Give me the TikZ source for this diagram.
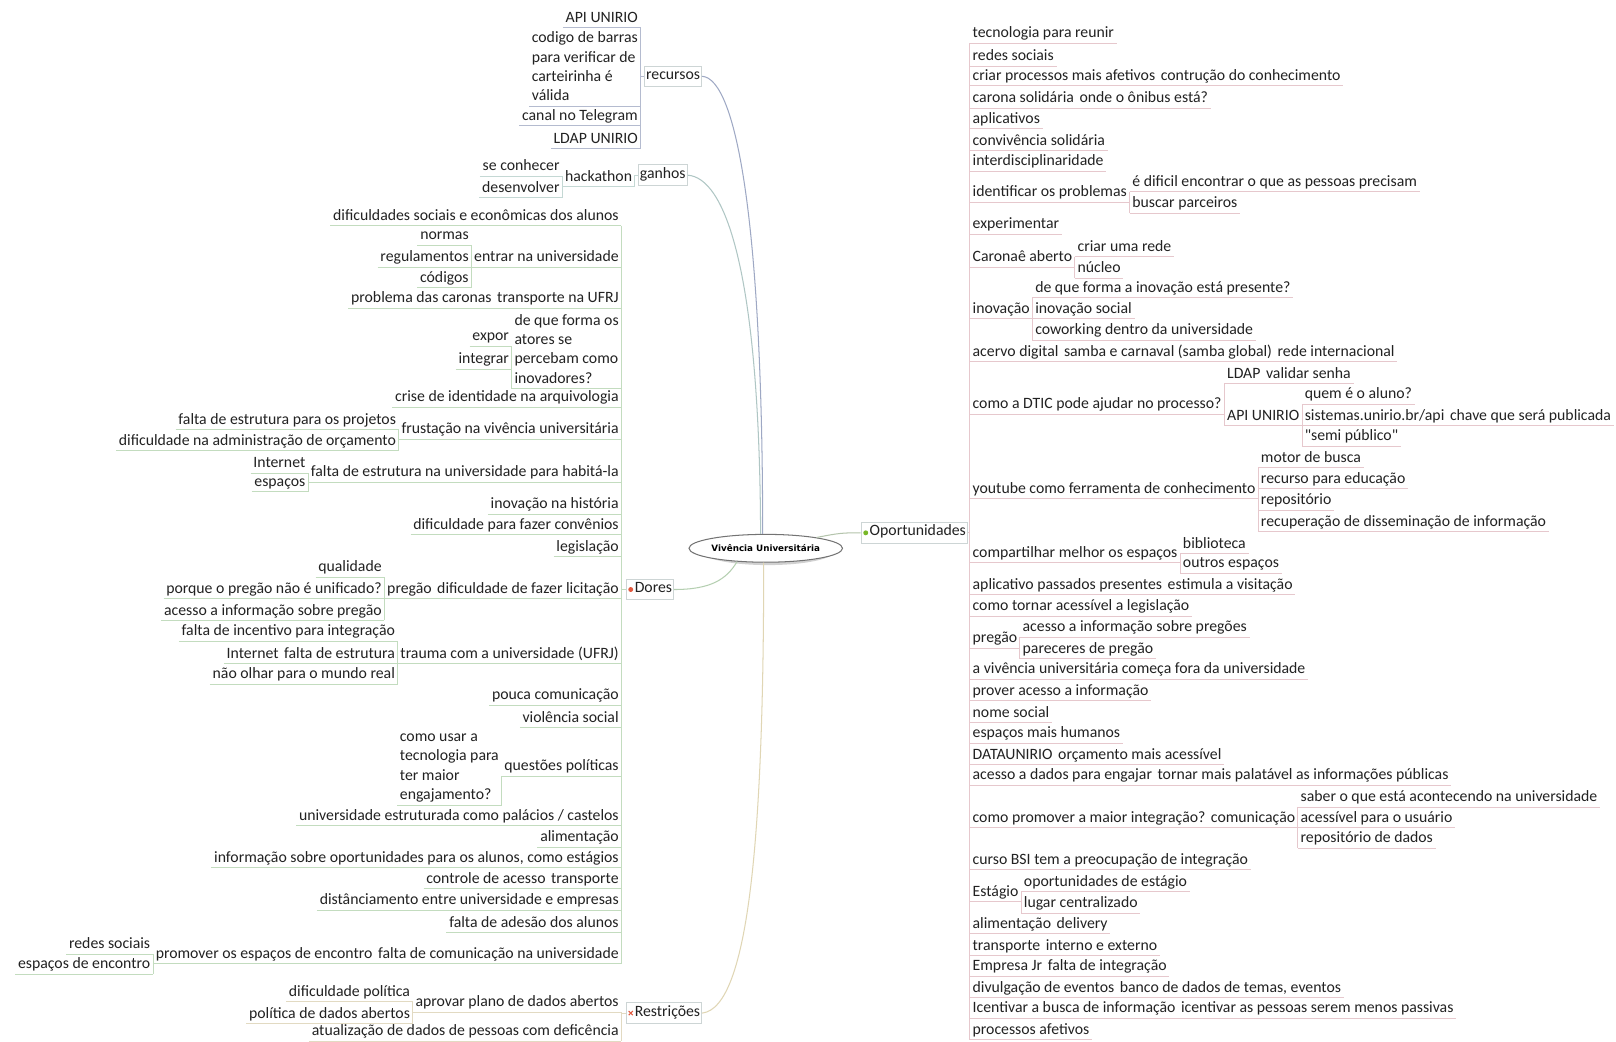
\documentclass[tikz,border=0pt]{standalone}
\usepackage{fontspec}
\setmainfont{Carlito}
\newfontfamily\rawfont[Ligatures=TeXOff]{Carlito}
\newfontfamily\ctrfont{DejaVu Sans}
\usetikzlibrary{shapes.geometric}
\definecolor{txt}{HTML}{222222}
\definecolor{cRec}{HTML}{B4BBCF}
\definecolor{cGan}{HTML}{C4D8D4}
\definecolor{cDor}{HTML}{C3DCBF}
\definecolor{cRes}{HTML}{E2DAC2}
\definecolor{cOp}{HTML}{E6C8CD}
\definecolor{kRec}{HTML}{9EA8C4}
\definecolor{kGan}{HTML}{AFC6C4}
\definecolor{kDor}{HTML}{B4CFB0}
\definecolor{kRes}{HTML}{E0D6B4}
\definecolor{kOp}{HTML}{B4C4AC}
\definecolor{boxc}{HTML}{CDD5D5}
\definecolor{dotg}{HTML}{78B828}
\definecolor{dotr}{HTML}{E2583E}
\newcommand{\fs}{\fontsize{15.3}{18.8}\selectfont}
\newcommand{\mlt}[1]{\begin{tabular}[b]{@{}l@{}}#1\end{tabular}}
\begin{document}
\begin{tikzpicture}[x=1pt,y=-1pt,
  tx/.style={inner xsep=2.5pt,inner ysep=0pt,text height=11pt,text depth=5pt,font=\fs,text=txt},
  lnw/.style={line width=0.8pt},
  lft/.style={tx,anchor=south east,append after command={(\tikzlastnode.south west) edge[lnw,draw=#1] (\tikzlastnode.south east)}},
  rgt/.style={tx,anchor=south west,append after command={(\tikzlastnode.south west) edge[lnw,draw=#1] (\tikzlastnode.south east)}},
  bx/.style={tx,draw=boxc,line width=0.8pt,inner xsep=1.5pt,inner ysep=2pt,anchor=west},
  crv/.style={line width=1pt}
]
\useasboundingbox[fill=white] (0,0) rectangle (1568,1011);

% central topic
\fill[black!18] (745,534.5) ellipse (65pt and 13.8pt);
\node[ellipse,draw=black!55,fill=white,line width=1pt,minimum width=129pt,minimum height=27pt,inner sep=0pt,font=\ctrfont\fontsize{8.5}{10}\selectfont\bfseries] (ctr) at (743,532) {Vivência Universitária};

% main topics
\node[bx] (rec) at (625,74) {recursos};
\node[bx] (gan) at (619,170) {ganhos};
\node[bx] (dor) at (607,572) {\hspace*{7pt}Dores};
\node[bx] (res) at (607,983) {\hspace*{7pt}Restrições};
\node[bx] (op) at (835,517) {\hspace*{7pt}Oportunidades};
\fill[dotg] ([xshift=5pt]op.west) circle (2.4pt);
\fill[dotr] ([xshift=5pt]dor.west) circle (2.4pt);
\draw[dotr,line width=1pt] ([shift={(3,2)}]res.west) -- ([shift={(7,-2)}]res.west);
\draw[dotr,line width=1pt] ([shift={(3,-2)}]res.west) -- ([shift={(7,2)}]res.west);

% curves from center
\draw[crv,kRec] (rec.east) .. controls (715,76) and (740,220) .. ([xshift=-3pt]ctr.north);
\draw[crv,kGan] (gan.east) .. controls (703,172) and (737,260) .. ([xshift=-5pt]ctr.north);
\draw[crv,kDor] (ctr.205) .. controls (705,562) and (690,572) .. (dor.east);
\draw[crv,kRes] ([xshift=-2pt]ctr.south) .. controls (741,800) and (728,978) .. (res.east);
\draw[crv,kOp] (ctr.12) .. controls (815,517) and (818,517) .. (op.west);

\coordinate (recS) at ([xshift=-3.5pt]rec.west);
\coordinate (ganS) at ([xshift=-3pt]gan.west);
\coordinate (dorS) at ([xshift=-4pt]dor.west);
\coordinate (resS) at ([xshift=-4pt]res.west);
\coordinate (opS) at ([xshift=2pt]op.east);

% recursos
\node[lft=cRec] (r1) at (recS |- 0,27) {API UNIRIO};
\node[lft=cRec] (r2) at (recS |- 0,103) {\mlt{codigo de barras\\para verificar de\\carteirinha é\\válida}};
\node[lft=cRec] (r3) at (recS |- 0,122) {canal no Telegram};
\node[lft=cRec] (r4) at (recS |- 0,144) {LDAP UNIRIO};
\draw[lnw,cRec] (r1.south east) -- (r4.south east);
\draw[lnw,cRec] (rec.west) -- (recS);

% ganhos
\node[lft=cGan] (g1) at (ganS |- 0,181) {hackathon};
\node[lft=cGan] (g2) at (g1.south west |- 0,171) {se conhecer};
\node[lft=cGan] (g3) at (g1.south west |- 0,192) {desenvolver};
\draw[lnw,cGan] (gan.west) -- (ganS) -- (g1.south east);
\draw[lnw,cGan] (g2.south east) -- (g3.south east);

% Dores
\node[lft=cDor] (d1) at (dorS |- 0,219) {dificuldades sociais e econômicas dos alunos};
\node[lft=cDor] (d2) at (dorS |- 0,259) {entrar na universidade};
\node[lft=cDor] (d2a) at (d2.south west |- 0,238) {normas};
\node[lft=cDor] (d2b) at (d2.south west |- 0,259) {regulamentos};
\node[lft=cDor] (d2c) at (d2.south west |- 0,279) {códigos};
\draw[lnw,cDor] (d2a.south east) -- (d2c.south east);
\node[lft=cDor] (d3) at (dorS |- 0,299) {transporte na UFRJ};
\node[lft=cDor] (d3a) at (d3.south west |- 0,299) {problema das caronas};
\node[lft=cDor] (d4) at (dorS |- 0,377) {\mlt{de que forma os\\atores se\\percebam como\\inovadores?}};
\node[lft=cDor] (d4a) at (d4.south west |- 0,336) {expor};
\node[lft=cDor] (d4b) at (d4.south west |- 0,358) {integrar};
\draw[lnw,cDor] (d4a.south east) -- (d4.south west);
\node[lft=cDor] (d5) at (dorS |- 0,395) {crise de identidade na arquivologia};
\node[lft=cDor] (d6) at (dorS |- 0,426) {frustação na vivência universitária};
\node[lft=cDor] (d6a) at (d6.south west |- 0,417) {falta de estrutura para os projetos};
\node[lft=cDor] (d6b) at (d6.south west |- 0,437) {dificuldade na administração de orçamento};
\draw[lnw,cDor] (d6a.south east) -- (d6b.south east);
\node[lft=cDor] (d7) at (dorS |- 0,468) {falta de estrutura na universidade para habitá-la};
\node[lft=cDor] (d7a) at (d7.south west |- 0,459) {Internet};
\node[lft=cDor] (d7b) at (d7.south west |- 0,477) {espaços};
\draw[lnw,cDor] (d7a.south east) -- (d7b.south east);
\node[lft=cDor] (d8) at (dorS |- 0,499) {inovação na história};
\node[lft=cDor] (d9) at (dorS |- 0,519) {dificuldade para fazer convênios};
\node[lft=cDor] (d10) at (dorS |- 0,540) {legislação};
\node[lft=cDor] (d11) at (dorS |- 0,581) {dificuldade de fazer licitação};
\node[lft=cDor] (d11a) at (d11.south west |- 0,581) {pregão};
\node[lft=cDor] (d11b) at (d11a.south west |- 0,560) {qualidade};
\node[lft=cDor] (d11c) at (d11a.south west |- 0,581) {porque o pregão não é unificado?};
\node[lft=cDor] (d11d) at (d11a.south west |- 0,602) {acesso a informação sobre pregão};
\draw[lnw,cDor] (d11b.south east) -- (d11d.south east);
\node[lft=cDor] (d12) at (dorS |- 0,644) {trauma com a universidade (UFRJ)};
\node[lft=cDor] (d12a) at (d12.south west |- 0,622) {falta de incentivo para integração};
\node[lft=cDor] (d12b) at (d12.south west |- 0,644) {falta de estrutura};
\node[lft=cDor] (d12c) at (d12b.south west |- 0,644) {Internet};
\node[lft=cDor] (d12d) at (d12.south west |- 0,664) {não olhar para o mundo real};
\draw[lnw,cDor] (d12a.south east) -- (d12d.south east);
\node[lft=cDor] (d13) at (dorS |- 0,684) {pouca comunicação};
\node[lft=cDor] (d14) at (dorS |- 0,706) {violência social};
\node[lft=cDor] (d15) at (dorS |- 0,753) {questões políticas};
\node[lft=cDor] (d15a) at (d15.south west |- 0,781) {\mlt{como usar a\\tecnologia para\\ter maior\\engajamento?}};
\draw[lnw,cDor] (d15.south west) -- (d15a.south east);
\node[lft=cDor] (d16) at (dorS |- 0,801) {universidade estruturada como palácios / castelos};
\node[lft=cDor] (d17) at (dorS |- 0,822) {alimentação};
\node[lft=cDor] (d18) at (dorS |- 0,842) {informação sobre oportunidades para os alunos, como estágios};
\node[lft=cDor] (d19) at (dorS |- 0,862) {transporte};
\node[lft=cDor] (d19a) at (d19.south west |- 0,862) {controle de acesso};
\node[lft=cDor] (d20) at (dorS |- 0,883) {distânciamento entre universidade e empresas};
\node[lft=cDor] (d21) at (dorS |- 0,905) {falta de adesão dos alunos};
\node[lft=cDor] (d22) at (dorS |- 0,935) {falta de comunicação na universidade};
\node[lft=cDor] (d22a) at (d22.south west |- 0,935) {promover os espaços de encontro};
\node[lft=cDor] (d22b) at (d22a.south west |- 0,926) {redes sociais};
\node[lft=cDor] (d22c) at (d22a.south west |- 0,945) {espaços de encontro};
\draw[lnw,cDor] (d22b.south east) -- (d22c.south east);
\draw[lnw,cDor] (d1.south east) -- (d22.south east);
\draw[lnw,cDor] (dor.west) -- (dorS);

% Restricoes
\node[lft=cRes] (s1) at (resS |- 0,982) {aprovar plano de dados abertos};
\node[lft=cRes] (s1a) at (s1.south west |- 0,972) {dificuldade política};
\node[lft=cRes] (s1b) at (s1.south west |- 0,993) {política de dados abertos};
\draw[lnw,cRes] (s1a.south east) -- (s1b.south east);
\node[lft=cRes] (s2) at (resS |- 0,1010) {atualização de dados de pessoas com deficência};
\draw[lnw,cRes] (s1.south east) -- (s2.south east);
\draw[lnw,cRes] (res.west) -- (resS);

% Oportunidades
\node[rgt=cOp] (o1) at (opS |- 0,42) {tecnologia para reunir};
\node[rgt=cOp] (o2) at (opS |- 0,64) {redes sociais};
\node[rgt=cOp] (o3) at (opS |- 0,83) {criar processos mais afetivos};
\node[rgt=cOp] (o3a) at (o3.south east |- 0,83) {contrução do conhecimento};
\node[rgt=cOp] (o4) at (opS |- 0,105) {carona solidária};
\node[rgt=cOp] (o4a) at (o4.south east |- 0,105) {onde o ônibus está?};
\node[rgt=cOp] (o5) at (opS |- 0,125) {aplicativos};
\node[rgt=cOp] (o6) at (opS |- 0,146) {convivência solidária};
\node[rgt=cOp] (o7) at (opS |- 0,166) {interdisciplinaridade};
\node[rgt=cOp] (o8) at (opS |- 0,196) {identificar os problemas};
\node[rgt=cOp] (o8a) at (o8.south east |- 0,186) {é dificil encontrar o que as pessoas precisam};
\node[rgt=cOp] (o8b) at (o8.south east |- 0,207) {buscar parceiros};
\draw[lnw,cOp] (o8a.south west) -- (o8b.south west);
\node[rgt=cOp] (o9) at (opS |- 0,227) {experimentar};
\node[rgt=cOp] (o10) at (opS |- 0,259) {Caronaê aberto};
\node[rgt=cOp] (o10a) at (o10.south east |- 0,249) {criar uma rede};
\node[rgt=cOp] (o10b) at (o10.south east |- 0,270) {núcleo};
\draw[lnw,cOp] (o10a.south west) -- (o10b.south west);
\node[rgt=cOp] (o11) at (opS |- 0,309) {inovação};
\node[rgt=cOp] (o11a) at (o11.south east |- 0,289) {de que forma a inovação está presente?};
\node[rgt=cOp] (o11b) at (o11.south east |- 0,309) {inovação social};
\node[rgt=cOp] (o11c) at (o11.south east |- 0,330) {coworking dentro da universidade};
\draw[lnw,cOp] (o11a.south west) -- (o11c.south west);
\node[rgt=cOp] (o12) at (opS |- 0,351) {acervo digital};
\node[rgt=cOp] (o12a) at (o12.south east |- 0,351) {samba e carnaval (samba global)};
\node[rgt=cOp] (o12b) at (o12a.south east |- 0,351) {rede internacional};
\node[rgt=cOp] (o13) at (opS |- 0,402) {como a DTIC pode ajudar no processo?};
\node[rgt=cOp] (o13a) at (o13.south east |- 0,372) {LDAP};
\node[rgt=cOp] (o13a1) at (o13a.south east |- 0,372) {validar senha};
\node[rgt=cOp] (o13b) at (o13.south east |- 0,413) {API UNIRIO};
\draw[lnw,cOp] (o13a.south west) -- (o13b.south west);
\node[rgt=cOp] (o13b1) at (o13b.south east |- 0,392) {quem é o aluno?};
\node[rgt=cOp] (o13b2) at (o13b.south east |- 0,413) {sistemas.unirio.br/api};
\node[rgt=cOp] (o13b3) at (o13b2.south east |- 0,413) {chave que será publicada};
\node[rgt=cOp] (o13b4) at (o13b.south east |- 0,433) {{\rawfont"semi público"}};
\draw[lnw,cOp] (o13b1.south west) -- (o13b4.south west);
\node[rgt=cOp] (o14) at (opS |- 0,484) {youtube como ferramenta de conhecimento};
\node[rgt=cOp] (o14a) at (o14.south east |- 0,454) {motor de busca};
\node[rgt=cOp] (o14b) at (o14.south east |- 0,474) {recurso para educação};
\node[rgt=cOp] (o14c) at (o14.south east |- 0,495) {repositório};
\node[rgt=cOp] (o14d) at (o14.south east |- 0,516) {recuperação de disseminação de informação};
\draw[lnw,cOp] (o14a.south west) -- (o14d.south west);
\node[rgt=cOp] (o15) at (opS |- 0,546) {compartilhar melhor os espaços};
\node[rgt=cOp] (o15a) at (o15.south east |- 0,537) {biblioteca};
\node[rgt=cOp] (o15b) at (o15.south east |- 0,556) {outros espaços};
\draw[lnw,cOp] (o15a.south west) -- (o15b.south west);
\node[rgt=cOp] (o16) at (opS |- 0,577) {aplicativo passados presentes};
\node[rgt=cOp] (o16a) at (o16.south east |- 0,577) {estimula a visitação};
\node[rgt=cOp] (o17) at (opS |- 0,598) {como tornar acessível a legislação};
\node[rgt=cOp] (o18) at (opS |- 0,629) {pregão};
\node[rgt=cOp] (o18a) at (o18.south east |- 0,618) {acesso a informação sobre pregões};
\node[rgt=cOp] (o18b) at (o18.south east |- 0,639) {pareceres de pregão};
\draw[lnw,cOp] (o18a.south west) -- (o18b.south west);
\node[rgt=cOp] (o19) at (opS |- 0,659) {a vivência universitária começa fora da universidade};
\node[rgt=cOp] (o20) at (opS |- 0,680) {prover acesso a informação};
\node[rgt=cOp] (o21) at (opS |- 0,701) {nome social};
\node[rgt=cOp] (o22) at (opS |- 0,721) {espaços mais humanos};
\node[rgt=cOp] (o23) at (opS |- 0,742) {DATAUNIRIO};
\node[rgt=cOp] (o23a) at (o23.south east |- 0,742) {orçamento mais acessível};
\node[rgt=cOp] (o24) at (opS |- 0,762) {acesso a dados para engajar};
\node[rgt=cOp] (o24a) at (o24.south east |- 0,762) {tornar mais palatável as informações públicas};
\node[rgt=cOp] (o25) at (opS |- 0,803) {como promover a maior integração?};
\node[rgt=cOp] (o25a) at (o25.south east |- 0,803) {comunicação};
\node[rgt=cOp] (o25b) at (o25a.south east |- 0,783) {saber o que está acontecendo na universidade};
\node[rgt=cOp] (o25c) at (o25a.south east |- 0,803) {acessível para o usuário};
\node[rgt=cOp] (o25d) at (o25a.south east |- 0,823) {repositório de dados};
\draw[lnw,cOp] (o25b.south west) -- (o25d.south west);
\node[rgt=cOp] (o26) at (opS |- 0,844) {curso BSI tem a preocupação de integração};
\node[rgt=cOp] (o27) at (opS |- 0,875) {Estágio};
\node[rgt=cOp] (o27a) at (o27.south east |- 0,865) {oportunidades de estágio};
\node[rgt=cOp] (o27b) at (o27.south east |- 0,886) {lugar centralizado};
\draw[lnw,cOp] (o27a.south west) -- (o27b.south west);
\node[rgt=cOp] (o28) at (opS |- 0,906) {alimentação};
\node[rgt=cOp] (o28a) at (o28.south east |- 0,906) {delivery};
\node[rgt=cOp] (o29) at (opS |- 0,927) {transporte};
\node[rgt=cOp] (o29a) at (o29.south east |- 0,927) {interno e externo};
\node[rgt=cOp] (o30) at (opS |- 0,947) {Empresa Jr};
\node[rgt=cOp] (o30a) at (o30.south east |- 0,947) {falta de integração};
\node[rgt=cOp] (o31) at (opS |- 0,968) {divulgação de eventos};
\node[rgt=cOp] (o31a) at (o31.south east |- 0,968) {banco de dados de temas, eventos};
\node[rgt=cOp] (o32) at (opS |- 0,988) {Icentivar a busca de informação};
\node[rgt=cOp] (o32a) at (o32.south east |- 0,988) {icentivar as pessoas serem menos passivas};
\node[rgt=cOp] (o33) at (opS |- 0,1009) {processos afetivos};
\draw[lnw,cOp] (o1.south west) -- (o33.south west);
\draw[lnw,cOp] (op.east) -- (opS);
\end{tikzpicture}
\end{document}
